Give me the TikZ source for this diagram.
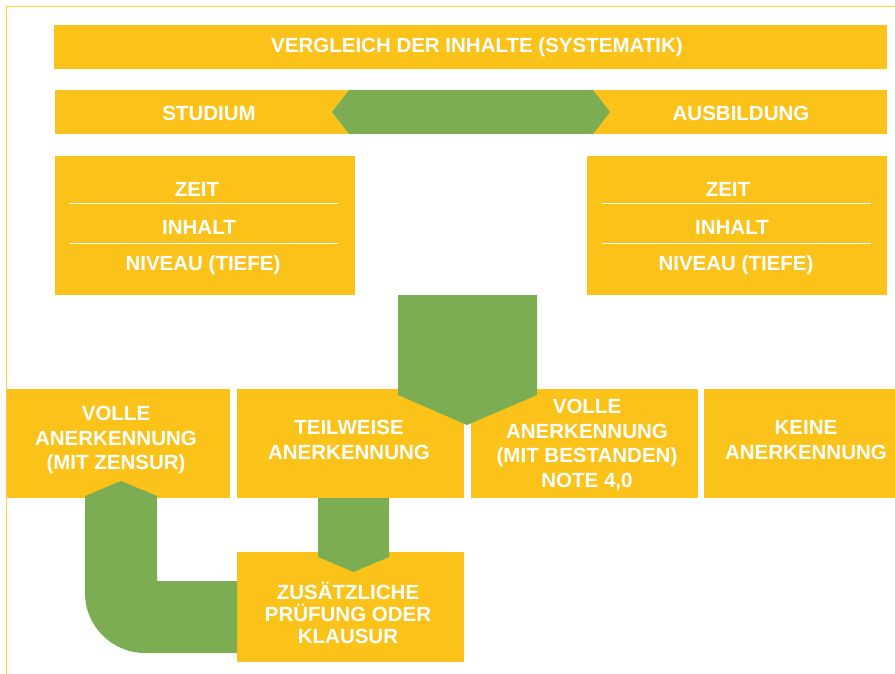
\documentclass[tikz,border=0pt]{standalone}
\usepackage{fontspec}
\setmainfont{Liberation Sans}
\usetikzlibrary{positioning}
\definecolor{gelb}{HTML}{FBC31A}
\definecolor{gruen}{HTML}{7CAD52}
\definecolor{rahmen}{HTML}{FDCF3C}
\tikzset{
	every node/.style={
		font=\fontsize{20.5}{24.5}\selectfont\bfseries,
		text=white
	},
	kasten/.style={
		shape=rectangle,
		fill=gelb,
		inner sep=0pt,
		anchor=north west
	},
	beschriftung/.style={
		align=center,
		inner sep=0pt
	},
	pfeil/.style={
		fill=gruen
	},
	trenner/.style={
		draw=white,
		line width=1.8pt
	}
}

\begin{document}
\begin{tikzpicture}[x=1pt,y=-1pt]
	\useasboundingbox (0,0) rectangle (895,674);
	
	\draw[rahmen, line width=1.8pt] (6.5,674) |- (895,6.5);
	
	% obere balken
	\node[kasten, minimum width=833pt, minimum height=44pt] (titel) at (54,25) {};
	\node[beschriftung] (titeltext) at (477,47) {VERGLEICH DER INHALTE (SYSTEMATIK)};
	\node[kasten, minimum width=832pt, minimum height=44pt] (vergleich) at (55,90) {};
	\fill[pfeil] (332,112) -- (349,90) -- (593,90) -- (610,112) -- (593,134) -- (349,134) -- cycle;
	\node[beschriftung] (studium) at (209,113) {STUDIUM};
	\node[beschriftung] (ausbildung) at (741,113) {AUSBILDUNG};
	
	% kriterien
	\node[kasten, minimum width=300pt, minimum height=139pt] (links) at (55,156) {};
	\node[kasten, minimum width=300pt, minimum height=139pt] (rechts) at (587,156) {};
	\draw[trenner] (69,203.5) -- (338,203.5);
	\draw[trenner] (69,243.5) -- (338,243.5);
	\draw[trenner] (602,203.5) -- (871,203.5);
	\draw[trenner] (602,243.5) -- (871,243.5);
	\node[beschriftung] (zeitl) at (197,189) {ZEIT};
	\node[beschriftung] (inhaltl) at (199,227) {INHALT};
	\node[beschriftung] (niveaul) at (203,265) {NIVEAU (TIEFE)};
	\node[beschriftung] (zeitr) at (728,189) {ZEIT};
	\node[beschriftung] (inhaltr) at (732,227) {INHALT};
	\node[beschriftung] (niveaur) at (736,265) {NIVEAU (TIEFE)};
	
	% ergebnisse
	\node[kasten, minimum width=223pt, minimum height=109pt] (voll) at (7,389) {};
	\node[kasten, minimum width=227pt, minimum height=109pt] (teil) at (237,389) {};
	\node[kasten, minimum width=227pt, minimum height=109pt] (bestanden) at (471,389) {};
	\node[kasten, minimum width=191pt, minimum height=109pt] (keine) at (704,389) {};
	\node[kasten, minimum width=227pt, minimum height=110pt] (pruefung) at (237,552) {};
	
	\fill[pfeil] (398,295) -- (537,295) -- (537,395) -- (467,425) -- (398,395) -- cycle;
	\fill[pfeil] (318,498) -- (389,498) -- (389,557) -- (353.5,572) -- (318,557) -- cycle;
	\fill[pfeil] (121,481) -- (157,496) -- (157,581) -- (237,581) -- (237,653) -- (145,653)
		.. controls (111.9,653) and (85,626.1) .. (85,593) -- (85,496) -- cycle;
	
	\node[beschriftung] (volltext) at (116,440) {VOLLE\\ANERKENNUNG\\(MIT ZENSUR)};
	\node[beschriftung] (teiltext) at (349,440) {TEILWEISE\\ANERKENNUNG};
	\node[beschriftung] (bestandentext) at (587,445) {VOLLE\\ANERKENNUNG\\(MIT BESTANDEN)\\NOTE 4,0};
	\node[beschriftung] (keinetext) at (806,440) {KEINE\\ANERKENNUNG};
	\node[beschriftung, font=\fontsize{20.5}{22}\selectfont\bfseries] (pruefungtext) at (348,613) {ZUSÄTZLICHE\\PRÜFUNG ODER\\KLAUSUR};
\end{tikzpicture}
\end{document}
